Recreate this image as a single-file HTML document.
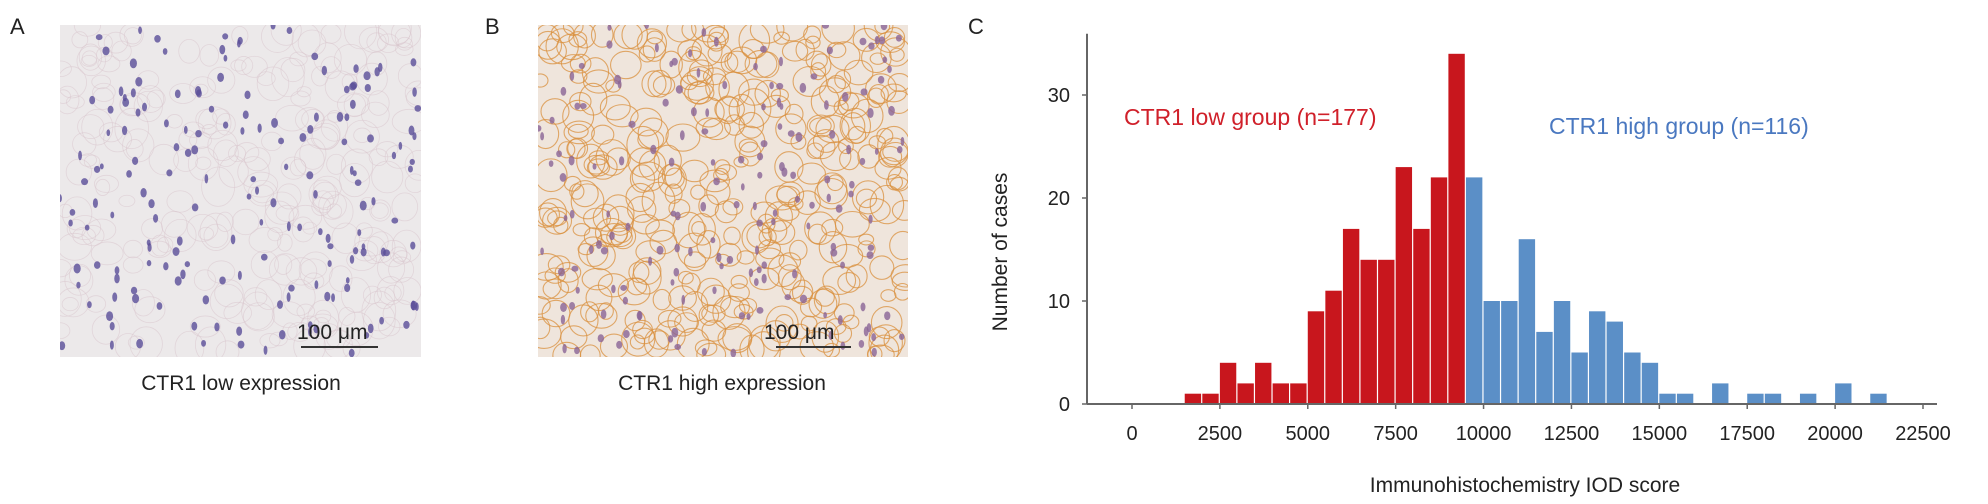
<!DOCTYPE html>
<html><head><meta charset="utf-8">
<style>
html,body{margin:0;padding:0;background:#fff;}
body{width:1988px;height:504px;position:relative;overflow:hidden;font-family:"Liberation Sans",Arial,sans-serif;}
svg{position:absolute;left:0;top:0;}
text{font-family:"Liberation Sans",Arial,sans-serif;}
</style></head>
<body>
<svg id="fig" width="1988" height="504" viewBox="0 0 1988 504">
  <text x="10" y="34" font-size="22" fill="#222">A</text>
  <text x="485" y="34" font-size="22" fill="#222">B</text>
  <text x="968" y="34" font-size="22" fill="#222">C</text>
  <g id="tissueA">
    <rect x="60" y="25" width="361" height="332" fill="#ece9ea"/>
  </g>
  <g id="tissueB">
    <rect x="538" y="25" width="370" height="332" fill="#efe5dc"/>
  </g>
  <g>
    <text x="297" y="339" font-size="21" fill="#222">100 μm</text>
    <line x1="301" y1="347" x2="378" y2="347" stroke="#333" stroke-width="2"/>
  </g>
  <g>
    <text x="764" y="339" font-size="21" fill="#222">100 μm</text>
    <line x1="776" y1="347" x2="851" y2="347" stroke="#333" stroke-width="2"/>
  </g>
  <text x="241" y="390" font-size="21" fill="#222" text-anchor="middle">CTR1 low expression</text>
  <text x="722" y="390" font-size="21" fill="#222" text-anchor="middle">CTR1 high expression</text>
  <g id="chart"></g>
</svg>
<script>
// ---- chart data ----
const binStart = 1500;
const binWidth = 500;
const lowCounts = [1,1,4,2,4,2,2,9,11,17,14,14,23,17,22,34];
const highCounts = [22,10,10,16,7,10,5,9,8,5,4,1,1,0,2,0,1,1,0,1,0,2,0,1];
const xTicks = [0,2500,5000,7500,10000,12500,15000,17500,20000,22500];
const yTicks = [0,10,20,30];

const NS = "http://www.w3.org/2000/svg";
const X0 = 1132, X1 = 1923, Y0 = 404, PXY = 10.3;
function xs(v){ return X0 + (v/22500)*(X1-X0); }
function ys(v){ return Y0 - v*PXY; }
function mk(tag, attrs, parent){ const e=document.createElementNS(NS,tag); for(const k in attrs) e.setAttribute(k,attrs[k]); parent.appendChild(e); return e; }
const chart = document.getElementById('chart');

const bars = mk('g',{},chart);


lowCounts.forEach((c,i)=>{
  if(!c) return;
  const a = binStart + i*binWidth;
  const r = mk('rect',{x:xs(a),y:ys(c),width:xs(a+binWidth)-xs(a)-1.2,height:Y0-ys(c),fill:'#c8161d'},bars);
  
  
});
const hs = binStart + lowCounts.length*binWidth;
highCounts.forEach((c,i)=>{
  if(!c) return;
  const a = hs + i*binWidth;
  const r = mk('rect',{x:xs(a),y:ys(c),width:xs(a+binWidth)-xs(a)-1.2,height:Y0-ys(c),fill:'#5b8fc7'},bars);
  
  
});

const ya = mk('line',{x1:1087,y1:ys(34)-20,x2:1087,y2:Y0,stroke:'#666','stroke-width':2},chart);


const xa = mk('line',{x1:1087,y1:Y0,x2:1937,y2:Y0,stroke:'#666','stroke-width':2},chart);


yTicks.forEach(t=>{
  mk('line',{x1:1082,y1:ys(t),x2:1087,y2:ys(t),stroke:'#666','stroke-width':1.5},chart);
  const tx = mk('text',{x:1070,y:ys(t)+7,'font-size':20,fill:'#222','text-anchor':'end'},chart);
  tx.textContent = t;
  
  
});
xTicks.forEach(t=>{
  mk('line',{x1:xs(t),y1:Y0,x2:xs(t),y2:Y0+5,stroke:'#666','stroke-width':1.5},chart);
  const tx = mk('text',{x:xs(t),y:440,'font-size':20,fill:'#222','text-anchor':'middle'},chart);
  tx.textContent = t;
  
  
});
const xl = mk('text',{x:1525,y:492,'font-size':21,fill:'#222','text-anchor':'middle'},chart);
xl.textContent='Immunohistochemistry IOD score';


const yl = mk('text',{x:0,y:0,'font-size':21,fill:'#222','text-anchor':'middle',transform:'translate(1007,252) rotate(-90)'},chart);
yl.textContent='Number of cases';


const l1 = mk('text',{x:1124,y:125,'font-size':23,fill:'#d0202a'},chart);
l1.textContent='CTR1 low group (n=177)';


const l2 = mk('text',{x:1549,y:134,'font-size':23,fill:'#4a78c0'},chart);
l2.textContent='CTR1 high group (n=116)';



// micrograph texture (decorative)
let seed = 7;
function rnd(){ seed = (seed*16807)%2147483647; return seed/2147483647; }
function tissue(id,x,y,w,h,line,nuc,lw,op,n){
  const g = document.getElementById(id);
  const clip = 'clip-'+id;
  const cp = mk('clipPath',{id:clip},g);
  mk('rect',{x:x,y:y,width:w,height:h},cp);
  const inner = mk('g',{'clip-path':'url(#'+clip+')'},g);
  for(let i=0;i<n;i++){
    const cx=x+rnd()*w, cy=y+rnd()*h, r=7+rnd()*10;
    mk('ellipse',{cx:cx,cy:cy,rx:r,ry:r*(0.7+rnd()*0.5),fill:'none',stroke:line,'stroke-width':lw,opacity:op},inner);
  }
  for(let i=0;i<170;i++){
    const cx=x+rnd()*w, cy=y+rnd()*h;
    mk('ellipse',{cx:cx,cy:cy,rx:1.8+rnd()*1.8,ry:3+rnd()*2,fill:nuc,opacity:0.8},inner);
  }
}
tissue('tissueA',60,25,361,332,'#d9c4cc','#5a4e98',0.8,0.55,260);
tissue('tissueB',538,25,370,332,'#d9903f','#8a6496',1.1,0.75,360);
</script>
</body></html>
